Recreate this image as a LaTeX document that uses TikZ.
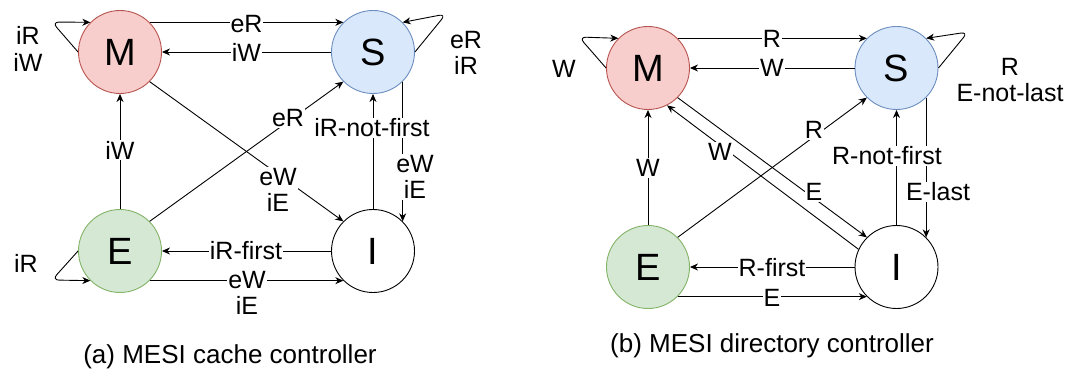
\documentclass[tikz,border=0pt]{standalone}
\usepackage{fontspec}
\setmainfont{Liberation Sans}
\usetikzlibrary{arrows.meta}

\definecolor{mfill}{HTML}{F8CECC}
\definecolor{mline}{HTML}{B85450}
\definecolor{sfill}{HTML}{DAE8FC}
\definecolor{sline}{HTML}{6C8EBF}
\definecolor{efill}{HTML}{D5E8D4}
\definecolor{eline}{HTML}{82B366}

\tikzset{
  state/.style={circle, minimum size=83pt, inner sep=0pt, line width=0.9pt,
                font=\fontsize{38}{40}\selectfont},
  mstate/.style={state, draw=mline, fill=mfill},
  sstate/.style={state, draw=sline, fill=sfill},
  estate/.style={state, draw=eline, fill=efill},
  istate/.style={state, draw=black, fill=white},
  arr/.style={-{Stealth[length=8pt,width=7pt,inset=2.5pt]}, line width=0.9pt},
  loopline/.style={arr, rounded corners=7pt},
  lbl/.style={fill=white, inner sep=1pt, align=center,
              font=\fontsize{25}{26.5}\selectfont},
  captext/.style={align=center, font=\fontsize{26}{28}\selectfont}
}

\begin{document}
\begin{tikzpicture}[x=1pt, y=-1pt]
\useasboundingbox (0,0) rectangle (1073,374);

% ---------- (a) cache controller ----------
\node[mstate] (aM) at (120,52)  {M};
\node[sstate] (aS) at (373,52)  {S};
\node[estate] (aE) at (120,251) {E};
\node[istate] (aI) at (373,251) {I};

\draw[arr] (aM.45) -- (aS.135);
\draw[arr] (aS.180) -- (aM.0);
\draw[loopline] (aM.180) -- (52,22) -- (aM.135);
\draw[loopline] (aS.0) -- (446,14) -- (aS.45);
\draw[loopline] (aE.180) -- (52,280) -- (aE.-135);
\draw[arr] (aM.-45) -- (aI.135);
\draw[arr] (aE.45) -- (aS.-135);
\draw[arr] (aE.90) -- (aM.-90);
\draw[arr] (aI.90) -- (aS.-90);
\draw[arr] (aS.-45) -- (aI.45);
\draw[arr] (aI.180) -- (aE.0);
\draw[arr] (aE.-45) -- (aI.-135);

\node[lbl] (la1) at (246.5,24) {eR};
\node[lbl] (la2) at (246.5,52) {iW};
\node[lbl] (la3) at (28,49) {iR\\iW};
\node[lbl] (la4) at (466,53) {eR\\iR};
\node[lbl] (la5) at (26,263) {iR};
\node[lbl] (la6) at (278,190) {eW\\iE};
\node[lbl] (la7) at (288,118) {eR};
\node[lbl] (la8) at (120,150) {iW};
\node[lbl] (la10) at (415,177) {eW\\iE};
\node[lbl] (la9) at (372,128) {iR-not-first};
\node[lbl] (la11) at (246,251) {iR-first};
\node[lbl] (la12) at (247,293) {eW\\iE};
\node[captext] (capa) at (230,357) {(a) MESI cache controller};

% ---------- (b) directory controller ----------
\node[mstate] (bM) at (648,68)    {M};
\node[sstate] (bS) at (896.5,68)  {S};
\node[estate] (bE) at (648,267)   {E};
\node[istate] (bI) at (896.5,267) {I};

\draw[arr] (bM.45) -- (bS.135);
\draw[arr] (bS.180) -- (bM.0);
\draw[loopline] (bM.180) -- (579,37) -- (bM.135);
\draw[loopline] (bS.0) -- (968,32) -- (bS.45);
\draw[arr] (bE.90) -- (bM.-90);
\draw[arr] (bI.155) -- (bM.-63);
\draw[arr] (bM.-45) -- (bI.135);
\draw[arr] (bE.45) -- (bS.-135);
\draw[arr] (bI.90) -- (bS.-90);
\draw[arr] (bS.-45) -- (bI.45);
\draw[arr] (bI.180) -- (bE.0);
\draw[arr] (bE.-45) -- (bI.-135);

\node[lbl] (lb1) at (772,39) {R};
\node[lbl] (lb2) at (772,68) {W};
\node[lbl] (lb3) at (564,69) {W};
\node[lbl] (lb4) at (1010,80) {R\\E-not-last};
\node[lbl] (lb5) at (648,168) {W};
\node[lbl] (lb6) at (720,152) {W};
\node[lbl] (lb7) at (814,192) {E};
\node[lbl] (lb8) at (814,130) {R};
\node[lbl] (lb9) at (887,156) {R-not-first};
\node[lbl] (lb10) at (938,192) {E-last};
\node[lbl] (lb11) at (772,268) {R-first};
\node[lbl] (lb12) at (772,298) {E};
\node[captext] (capb) at (772,346) {(b) MESI directory controller};
\end{tikzpicture}
\end{document}
